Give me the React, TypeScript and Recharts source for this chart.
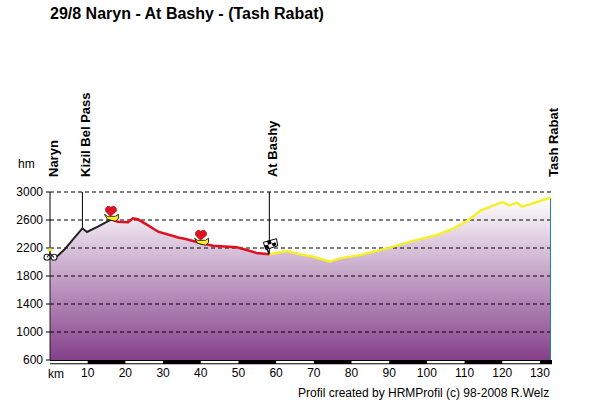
import { ComposedChart, Area, Line, XAxis, YAxis, ReferenceLine, ReferenceArea, ReferenceDot } from "recharts";

const distance = [0, 1.6, 3.9, 6.1, 8.6, 9.8, 12.7, 16.3, 18, 20.7, 22, 23.3, 25.6, 28.7, 32.7, 34, 36, 38, 40.2, 43.3, 49.5, 52.2, 54.8, 58.2, 62.8, 66.4, 69.9, 74.3, 76.6, 82.3, 89.4, 96.5, 102.7, 107.1, 111.1, 114.2, 116.9, 120, 122, 123.8, 125.3, 129.3, 132.8];
const elevation = [2053, 2067, 2181, 2324, 2481, 2429, 2505, 2610, 2576, 2567, 2624, 2610, 2538, 2433, 2371, 2350, 2329, 2300, 2267, 2233, 2210, 2171, 2129, 2110, 2157, 2110, 2076, 2005, 2048, 2100, 2195, 2305, 2386, 2481, 2600, 2733, 2790, 2857, 2810, 2848, 2790, 2857, 2919];

const yTicks = [600, 1000, 1400, 1800, 2200, 2600, 3000];
const xTicks = [10, 20, 30, 40, 50, 60, 70, 80, 90, 100, 110, 120, 130];
const whiteStripes = [[0, 10], [20, 30], [40, 50], [60, 70], [80, 90], [100, 110], [120, 130]];
const gridLines = [1000, 1400, 1800, 2200, 2600, 3000];

const blackEnd = 16.3;
const redEnd = 58.2;

const passes = [
    { name: "Naryn", km: 0, alt: 2053 },
    { name: "Kizil Bel Pass", km: 8.6, alt: 2481 },
    { name: "At Bashy", km: 58.2, alt: 2110 },
];
const hearts = [
    { km: 16.3, alt: 2610 },
    { km: 40.2, alt: 2267 },
];

const data = distance.map((km, i) => ({
    km,
    alt: elevation[i],
    black: km <= blackEnd ? elevation[i] : null,
    red: km >= blackEnd && km <= redEnd ? elevation[i] : null,
    yellow: km >= redEnd ? elevation[i] : null,
}));

const TopLabel = ({ viewBox, value }: any) => {
    const x = viewBox.x + 8;
    const y = 177;
    return (
        <text x={x} y={y} transform={`rotate(-90 ${x} ${y})`} fontSize={13} fontWeight="bold" fontFamily="Liberation Sans" fill="#000">
            {value}
        </text>
    );
};

const HeartBoat = ({ cx, cy }: any) => (
    <g transform={`translate(${cx} ${cy})`}>
        <path d="M-7,-5 L-4,-3 L4,-3 L7,-5 L7,-1 L4,2 L-4,0 Z" fill="#ffee22" stroke="#000" strokeWidth={0.8} />
        <path d="M-1,-3 L-6,-8 L-6,-11 L-4,-13 L-2,-13 L-1,-12 L1,-13 L3,-13 L5,-11 L5,-8 Z" fill="#e01020" stroke="#7a1010" strokeWidth={0.5} />
    </g>
);

const Flag = ({ cx, cy }: any) => (
    <g transform={`translate(${cx} ${cy}) scale(1.2)`}>
        <path d="M0,0 L-4,-9" stroke="#000" strokeWidth={1.2} />
        <path d="M-5,-10 L6,-13 L7,-7 L-3,-4 Z" fill="#fff" stroke="#000" strokeWidth={0.8} />
        <path d="M-2,-11 L1,-12 L2,-9 L-1,-8 Z M2,-9 L5,-10 L6,-7.5 L3,-6.5 Z M-4,-7.5 L-1,-8 L0,-5 L-3,-4.5 Z" fill="#000" />
    </g>
);

const Bike = ({ cx, cy }: any) => (
    <g transform={`translate(${cx} ${cy})`} fill="none" stroke="#222" strokeWidth={1.1}>
        <circle cx={-3} cy={-1} r={3} fill="#fff" />
        <circle cx={4} cy={-1} r={3} fill="#fff" />
        <path d="M-3,-1 L0,-5 L4,-1 M0,-5 L0,-8" />
        <path d="M0,-11 L3,-7 L-3,-7 Z" fill="#f4e030" stroke="none" />
    </g>
);

const textStyle = { position: "absolute" as const, fontFamily: "Liberation Sans", color: "#000", whiteSpace: "nowrap" as const };

export default function App() {
    return (
        <div style={{ position: "absolute", left: 0, top: 0, width: 600, height: 400, background: "#fff" }}>
            <div style={{ ...textStyle, left: 50, top: 5, fontSize: 16, fontWeight: "bold" }}>29/8 Naryn - At Bashy - (Tash Rabat)</div>
            <div style={{ ...textStyle, left: 18, top: 157, fontSize: 12 }}>hm</div>
            <div style={{ ...textStyle, left: 48, top: 367, fontSize: 12 }}>km</div>
            <div style={{ ...textStyle, left: 298, top: 386, fontSize: 12 }}>Profil created by HRMProfil (c) 98-2008 R.Welz</div>
            <ComposedChart width={600} height={400} data={data} margin={{ top: 192, right: 48, bottom: 10, left: 0 }} style={{ position: "absolute", left: 0, top: 0 }}>
                <defs>
                    <linearGradient id="profileFill" x1="0" y1="0" x2="0" y2="1">
                        <stop offset="0%" stopColor="#ffffff" />
                        <stop offset="100%" stopColor="#84408a" />
                    </linearGradient>
                </defs>
                <XAxis
                    dataKey="km"
                    type="number"
                    domain={[0, 133.2]}
                    ticks={xTicks}
                    interval={0}
                    height={30}
                    axisLine={false}
                    tickLine={false}
                    tickMargin={2}
                    tick={{ fontSize: 12, fontFamily: "Liberation Sans", fill: "#000" }}
                />
                <YAxis
                    type="number"
                    domain={[600, 3000]}
                    ticks={yTicks}
                    interval={0}
                    width={50}
                    axisLine={false}
                    tickSize={4}
                    tickLine={{ stroke: "#000" }}
                    tickMargin={3}
                    tick={{ fontSize: 12, fontFamily: "Liberation Sans", fill: "#000" }}
                />
                <Area dataKey="alt" type="linear" fill="url(#profileFill)" fillOpacity={1} stroke="none" isAnimationActive={false} />
                {gridLines.map((g) => (
                    <ReferenceLine key={g} y={g} stroke="#000" strokeDasharray="4 3" />
                ))}
                <ReferenceArea x1={0} x2={133.2} y1={540} y2={600} fill="#000" fillOpacity={1} stroke="none" ifOverflow="visible" />
                {whiteStripes.map(([a, b]) => (
                    <ReferenceArea key={a} x1={a} x2={b} y1={555} y2={585} fill="#fff" fillOpacity={1} stroke="none" ifOverflow="visible" />
                ))}
                <ReferenceLine segment={[{ x: 0, y: 600 }, { x: 0, y: 2053 }]} stroke="#222" />
                <ReferenceLine segment={[{ x: 132.8, y: 600 }, { x: 132.8, y: 2919 }]} stroke="#1e8a8a" />
                {passes.map((p) => (
                    <ReferenceLine
                        key={p.name}
                        segment={[{ x: p.km, y: 3000 }, { x: p.km, y: p.alt }]}
                        stroke="#000"
                        label={<TopLabel value={p.name} />}
                    />
                ))}
                <ReferenceLine segment={[{ x: 132.8, y: 3000 }, { x: 132.8, y: 2919 }]} stroke="none" label={<TopLabel value="Tash Rabat" />} />
                <Line dataKey="black" stroke="#222222" strokeWidth={2} dot={false} connectNulls={false} isAnimationActive={false} />
                <Line dataKey="red" stroke="#e01020" strokeWidth={2.5} dot={false} connectNulls={false} isAnimationActive={false} />
                <Line dataKey="yellow" stroke="#f6f02c" strokeWidth={2.5} dot={false} connectNulls={false} isAnimationActive={false} />
                {hearts.map((h) => (
                    <ReferenceDot key={h.km} x={h.km} y={h.alt} shape={<HeartBoat />} />
                ))}
                <ReferenceDot x={redEnd} y={2110} shape={<Flag />} />
                <ReferenceDot x={0} y={2053} shape={<Bike />} ifOverflow="visible" />
            </ComposedChart>
        </div>
    );
}
